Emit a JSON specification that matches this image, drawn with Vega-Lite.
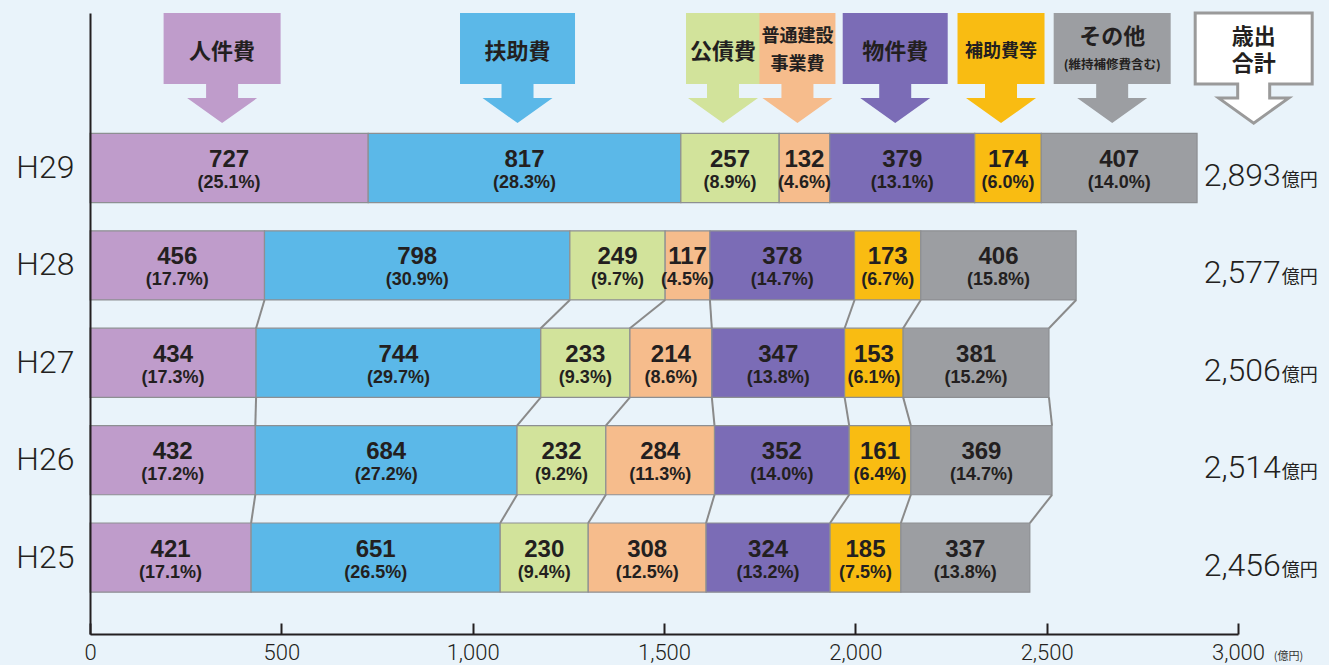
{
  "$schema": "https://vega.github.io/schema/vega-lite/v6.json",
  "autosize": "none",
  "width": 1148,
  "height": 621,
  "padding": {"left": 90, "top": 13, "right": 91, "bottom": 31},
  "background": "#e9f3fa",
  "config": {"view": {"stroke": null}, "font": "Liberation Sans"},
  "data": {"values": [
    {"year": "H29", "idx": 1, "cat": "人件費", "value": 727, "pct": 25.1},
    {"year": "H29", "idx": 2, "cat": "扶助費", "value": 817, "pct": 28.3},
    {"year": "H29", "idx": 3, "cat": "公債費", "value": 257, "pct": 8.9},
    {"year": "H29", "idx": 4, "cat": "普通建設事業費", "value": 132, "pct": 4.6},
    {"year": "H29", "idx": 5, "cat": "物件費", "value": 379, "pct": 13.1},
    {"year": "H29", "idx": 6, "cat": "補助費等", "value": 174, "pct": 6.0},
    {"year": "H29", "idx": 7, "cat": "その他", "value": 407, "pct": 14.0},
    {"year": "H28", "idx": 1, "cat": "人件費", "value": 456, "pct": 17.7},
    {"year": "H28", "idx": 2, "cat": "扶助費", "value": 798, "pct": 30.9},
    {"year": "H28", "idx": 3, "cat": "公債費", "value": 249, "pct": 9.7},
    {"year": "H28", "idx": 4, "cat": "普通建設事業費", "value": 117, "pct": 4.5},
    {"year": "H28", "idx": 5, "cat": "物件費", "value": 378, "pct": 14.7},
    {"year": "H28", "idx": 6, "cat": "補助費等", "value": 173, "pct": 6.7},
    {"year": "H28", "idx": 7, "cat": "その他", "value": 406, "pct": 15.8},
    {"year": "H27", "idx": 1, "cat": "人件費", "value": 434, "pct": 17.3},
    {"year": "H27", "idx": 2, "cat": "扶助費", "value": 744, "pct": 29.7},
    {"year": "H27", "idx": 3, "cat": "公債費", "value": 233, "pct": 9.3},
    {"year": "H27", "idx": 4, "cat": "普通建設事業費", "value": 214, "pct": 8.6},
    {"year": "H27", "idx": 5, "cat": "物件費", "value": 347, "pct": 13.8},
    {"year": "H27", "idx": 6, "cat": "補助費等", "value": 153, "pct": 6.1},
    {"year": "H27", "idx": 7, "cat": "その他", "value": 381, "pct": 15.2},
    {"year": "H26", "idx": 1, "cat": "人件費", "value": 432, "pct": 17.2},
    {"year": "H26", "idx": 2, "cat": "扶助費", "value": 684, "pct": 27.2},
    {"year": "H26", "idx": 3, "cat": "公債費", "value": 232, "pct": 9.2},
    {"year": "H26", "idx": 4, "cat": "普通建設事業費", "value": 284, "pct": 11.3},
    {"year": "H26", "idx": 5, "cat": "物件費", "value": 352, "pct": 14.0},
    {"year": "H26", "idx": 6, "cat": "補助費等", "value": 161, "pct": 6.4},
    {"year": "H26", "idx": 7, "cat": "その他", "value": 369, "pct": 14.7},
    {"year": "H25", "idx": 1, "cat": "人件費", "value": 421, "pct": 17.1},
    {"year": "H25", "idx": 2, "cat": "扶助費", "value": 651, "pct": 26.5},
    {"year": "H25", "idx": 3, "cat": "公債費", "value": 230, "pct": 9.4},
    {"year": "H25", "idx": 4, "cat": "普通建設事業費", "value": 308, "pct": 12.5},
    {"year": "H25", "idx": 5, "cat": "物件費", "value": 324, "pct": 13.2},
    {"year": "H25", "idx": 6, "cat": "補助費等", "value": 185, "pct": 7.5},
    {"year": "H25", "idx": 7, "cat": "その他", "value": 337, "pct": 13.8}
  ]},
  "layer": [
    {
      "transform": [{"stack": "value", "groupby": ["year"], "sort": [{"field": "idx", "order": "ascending"}], "as": ["x0", "x1"]}],
      "mark": {"type": "rect", "stroke": "#8d8f92", "strokeWidth": 1.2},
      "encoding": {
        "x": {"field": "x0", "type": "quantitative", "scale": {"domain": [0, 3000], "nice": false},
          "axis": {"values": [0, 500, 1000, 1500, 2000, 2500, 3000], "format": ",.0f", "grid": false, "labelFlush": false,
            "domainColor": "#231f20", "domainWidth": 2, "tickColor": "#231f20", "tickWidth": 2, "tickSize": -11,
            "labelFont": "Roboto", "labelFontWeight": 300, "labelFontSize": 22, "labelColor": "#231f20", "labelPadding": 19,
            "title": "(億円)", "titleFont": "Noto Sans CJK JP", "titleFontSize": 11, "titleFontWeight": 400, "titleColor": "#333333",
            "titleX": 1198, "titleY": 22, "titleAlign": "center", "titleBaseline": "middle", "titleAngle": 0}},
        "x2": {"field": "x1"},
        "y": {"field": "year", "type": "nominal", "scale": {"domain": ["header", "H29", "H28", "H27", "H26", "H25"], "paddingInner": 0.29, "paddingOuter": 0.333, "align": 0.355},
          "axis": {"domainColor": "#231f20", "domainWidth": 2, "ticks": false, "labelFont": "Roboto", "labelFontWeight": 300, "labelFontSize": 32, "labelColor": "#231f20", "labelPadding": 16, "labelExpr": "datum.value == 'header' ? '' : datum.value"}, "title": null},
        "color": {"field": "cat", "type": "nominal", "legend": null,
          "scale": {"domain": ["人件費", "扶助費", "公債費", "普通建設事業費", "物件費", "補助費等", "その他"],
            "range": ["#bf9ccb", "#5bb8e8", "#d2e39b", "#f6bc8c", "#7b6cb6", "#f9bc12", "#9c9ea2"]}}
      }
    },
    {
      "transform": [
        {"stack": "value", "groupby": ["year"], "sort": [{"field": "idx", "order": "ascending"}], "as": ["x0", "x1"]},
        {"window": [{"op": "lead", "field": "x1", "as": "nx1"}, {"op": "lead", "field": "year", "as": "nyear"}], "groupby": ["cat"], "sort": [{"field": "year", "order": "descending"}]},
        {"filter": "datum.nyear != null && datum.year != 'H29'"}
      ],
      "mark": {"type": "rule", "stroke": "#8a8a8a", "strokeWidth": 2},
      "encoding": {
        "x": {"field": "x1", "type": "quantitative"},
        "x2": {"field": "nx1"},
        "y": {"field": "year", "type": "nominal", "bandPosition": 1},
        "y2": {"field": "nyear", "bandPosition": 0}
      }
    },
    {
      "transform": [
        {"stack": "value", "groupby": ["year"], "sort": [{"field": "idx", "order": "ascending"}], "as": ["x0", "x1"]},
        {"calculate": "(datum.x0 + datum.x1) / 2", "as": "mid"}
      ],
      "mark": {"type": "text", "font": "Liberation Sans", "fontWeight": "bold", "fontSize": 24, "fill": "#231f20", "baseline": "alphabetic", "dy": -1},
      "encoding": {
        "x": {"field": "mid", "type": "quantitative"},
        "y": {"field": "year", "type": "nominal"},
        "text": {"field": "value", "type": "quantitative"}
      }
    },
    {
      "transform": [
        {"stack": "value", "groupby": ["year"], "sort": [{"field": "idx", "order": "ascending"}], "as": ["x0", "x1"]},
        {"calculate": "(datum.x0 + datum.x1) / 2", "as": "mid"},
        {"calculate": "'(' + format(datum.pct, '.1f') + '%)'", "as": "plabel"}
      ],
      "mark": {"type": "text", "font": "Liberation Sans", "fontWeight": "bold", "fontSize": 18, "fill": "#231f20", "baseline": "alphabetic", "dy": 20},
      "encoding": {
        "x": {"field": "mid", "type": "quantitative"},
        "y": {"field": "year", "type": "nominal"},
        "text": {"field": "plabel", "type": "nominal"}
      }
    },
    {
      "transform": [{"aggregate": [{"op": "sum", "field": "value", "as": "total"}], "groupby": ["year"]}],
      "mark": {"type": "text", "font": "Roboto", "fontWeight": 300, "fontSize": 32, "fill": "#231f20", "align": "right", "baseline": "alphabetic", "dy": 18},
      "encoding": {
        "x": {"datum": 3112, "type": "quantitative"},
        "y": {"field": "year", "type": "nominal"},
        "text": {"field": "total", "type": "quantitative", "format": ","}
      }
    },
    {
      "transform": [{"aggregate": [{"op": "sum", "field": "value", "as": "total"}], "groupby": ["year"]}],
      "mark": {"type": "text", "font": "Noto Sans CJK JP", "fontWeight": 400, "fontSize": 18, "fill": "#231f20", "align": "left", "baseline": "alphabetic", "dy": 18, "dx": 1},
      "encoding": {
        "x": {"datum": 3112, "type": "quantitative"},
        "y": {"field": "year", "type": "nominal"},
        "text": {"value": "億円"}
      }
    },
    {
      "transform": [
        {"stack": "value", "groupby": ["year"], "sort": [{"field": "idx", "order": "ascending"}], "as": ["x0", "x1"]},
        {"filter": "datum.year == 'H29'"},
        {"calculate": "(datum.x0 + datum.x1) / 2", "as": "mid"}
      ],
      "mark": {"type": "point", "filled": true, "opacity": 1, "size": 10000, "strokeWidth": 0},
      "encoding": {
        "x": {"field": "mid", "type": "quantitative"},
        "y": {"datum": "header", "type": "nominal"},
        "color": {"field": "cat", "type": "nominal", "legend": null},
        "shape": {"field": "cat", "type": "nominal", "legend": null,
          "scale": {"domain": ["人件費", "扶助費", "公債費", "普通建設事業費", "物件費", "補助費等", "その他"],
            "range": [
              "M-1.31,-1.15H1.03V0.27H0.18V0.55H0.56L-0.14,1.05L-0.84,0.55H-0.46V0.27H-1.31Z",
              "M-1.29,-1.15H1.01V0.27H0.18V0.55H0.56L-0.14,1.05L-0.84,0.55H-0.46V0.27H-1.29Z",
              "M-0.88,-1.15H0.6V0.27H0.18V0.55H0.56L-0.14,1.05L-0.84,0.55H-0.46V0.27H-0.88Z",
              "M-0.9,-1.15H0.62V0.27H0.18V0.55H0.56L-0.14,1.05L-0.84,0.55H-0.46V0.27H-0.9Z",
              "M-1.19,-1.15H0.91V0.27H0.18V0.55H0.56L-0.14,1.05L-0.84,0.55H-0.46V0.27H-1.19Z",
              "M-1.01,-1.15H0.73V0.27H0.18V0.55H0.56L-0.14,1.05L-0.84,0.55H-0.46V0.27H-1.01Z",
              "M-1.31,-1.15H1.03V0.27H0.18V0.55H0.56L-0.14,1.05L-0.84,0.55H-0.46V0.27H-1.31Z"
            ]}}
      }
    },
    {
      "transform": [
        {"stack": "value", "groupby": ["year"], "sort": [{"field": "idx", "order": "ascending"}], "as": ["x0", "x1"]},
        {"filter": "datum.year == 'H29' && datum.cat != '普通建設事業費' && datum.cat != 'その他'"},
        {"calculate": "(datum.x0 + datum.x1) / 2", "as": "mid"}
      ],
      "mark": {"type": "text", "font": "Noto Sans CJK JP", "fontWeight": "bold", "fill": "#231f20", "baseline": "middle", "dy": -19, "dx": -7},
      "encoding": {
        "x": {"field": "mid", "type": "quantitative"},
        "y": {"datum": "header", "type": "nominal"},
        "text": {"field": "cat"},
        "size": {"condition": {"test": "datum.cat == '補助費等'", "value": 18}, "value": 22}
      }
    },
    {
      "transform": [
        {"stack": "value", "groupby": ["year"], "sort": [{"field": "idx", "order": "ascending"}], "as": ["x0", "x1"]},
        {"filter": "datum.year == 'H29' && datum.cat == '普通建設事業費'"},
        {"calculate": "(datum.x0 + datum.x1) / 2", "as": "mid"}
      ],
      "mark": {"type": "text", "font": "Noto Sans CJK JP", "fontWeight": "bold", "fontSize": 18, "fill": "#231f20", "baseline": "middle", "dy": -34, "dx": -7, "lineHeight": 28},
      "encoding": {
        "x": {"field": "mid", "type": "quantitative"},
        "y": {"datum": "header", "type": "nominal"},
        "text": {"value": ["普通建設", "事業費"]}
      }
    },
    {
      "transform": [
        {"stack": "value", "groupby": ["year"], "sort": [{"field": "idx", "order": "ascending"}], "as": ["x0", "x1"]},
        {"filter": "datum.year == 'H29' && datum.cat == 'その他'"},
        {"calculate": "(datum.x0 + datum.x1) / 2", "as": "mid"}
      ],
      "mark": {"type": "text", "font": "Noto Sans CJK JP", "fontWeight": "bold", "fontSize": 22, "fill": "#231f20", "baseline": "middle", "dy": -34, "dx": -7},
      "encoding": {
        "x": {"field": "mid", "type": "quantitative"},
        "y": {"datum": "header", "type": "nominal"},
        "text": {"field": "cat"}
      }
    },
    {
      "transform": [
        {"stack": "value", "groupby": ["year"], "sort": [{"field": "idx", "order": "ascending"}], "as": ["x0", "x1"]},
        {"filter": "datum.year == 'H29' && datum.cat == 'その他'"},
        {"calculate": "(datum.x0 + datum.x1) / 2", "as": "mid"}
      ],
      "mark": {"type": "text", "font": "Noto Sans CJK JP", "fontWeight": "bold", "fontSize": 12.5, "fill": "#231f20", "baseline": "middle", "dy": -6, "dx": -7},
      "encoding": {
        "x": {"field": "mid", "type": "quantitative"},
        "y": {"datum": "header", "type": "nominal"},
        "text": {"value": "(維持補修費含む)"}
      }
    },
    {
      "data": {"values": [{"h": "歳出合計"}]},
      "mark": {"type": "point", "filled": false, "fill": "#ffffff", "stroke": "#9a9a9a", "strokeWidth": 3, "opacity": 1, "size": 10000,
        "shape": "M-1.17,-1.15H1.17V0.27H0.32V0.55H0.7L0,1.05L-0.7,0.55H-0.32V0.27H-1.17Z"},
      "encoding": {
        "x": {"datum": 3041, "type": "quantitative"},
        "y": {"datum": "header", "type": "nominal"}
      }
    },
    {
      "data": {"values": [{"h": "歳出"}]},
      "mark": {"type": "text", "font": "Noto Sans CJK JP", "fontWeight": "bold", "fontSize": 22, "fill": "#231f20", "baseline": "middle", "dy": -34},
      "encoding": {
        "x": {"datum": 3041, "type": "quantitative"},
        "y": {"datum": "header", "type": "nominal"},
        "text": {"field": "h"}
      }
    },
    {
      "data": {"values": [{"h": "合計"}]},
      "mark": {"type": "text", "font": "Noto Sans CJK JP", "fontWeight": "bold", "fontSize": 22, "fill": "#231f20", "baseline": "middle", "dy": -7},
      "encoding": {
        "x": {"datum": 3041, "type": "quantitative"},
        "y": {"datum": "header", "type": "nominal"},
        "text": {"field": "h"}
      }
    }
  ]
}
